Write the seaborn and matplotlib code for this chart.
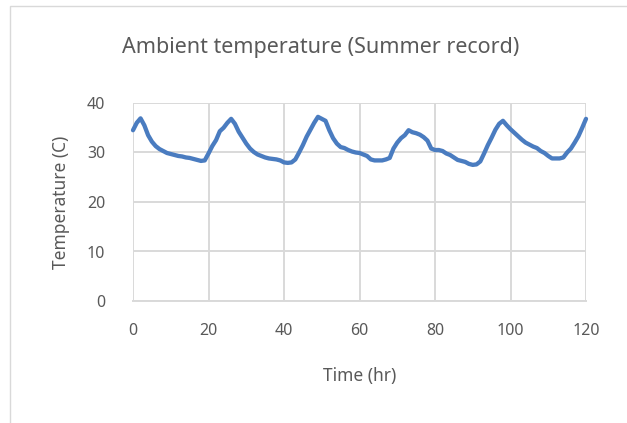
import matplotlib
matplotlib.use("Agg")
import matplotlib.pyplot as plt
import seaborn as sns
import pandas as pd
from matplotlib.patches import Rectangle

# Hourly ambient temperature readings over five summer days
hours = list(range(0, 121))
temperature_c = [
    34.5, 36.0, 36.9, 35.5, 33.5, 32.2, 31.3, 30.7, 30.3, 29.9,
    29.7, 29.5, 29.3, 29.2, 29.0, 28.9, 28.7, 28.5, 28.3, 28.4,
    29.8, 31.3, 32.5, 34.3, 35.0, 36.0, 36.8, 35.8, 34.2, 33.0,
    31.8, 30.8, 30.1, 29.6, 29.3, 29.0, 28.8, 28.7, 28.6, 28.4,
    28.0, 27.9, 28.0, 28.6, 30.0, 31.5, 33.2, 34.6, 36.0, 37.2,
    36.8, 36.4, 34.5, 32.9, 31.8, 31.1, 30.9, 30.5, 30.2, 30.0,
    29.9, 29.6, 29.3, 28.6, 28.4, 28.4, 28.4, 28.6, 28.9, 30.8,
    32.0, 32.9, 33.5, 34.5, 34.1, 33.9, 33.6, 33.1, 32.4, 30.8,
    30.5, 30.5, 30.3, 29.8, 29.5, 29.0, 28.5, 28.3, 28.1, 27.7,
    27.5, 27.6, 28.2, 29.8, 31.5, 33.0, 34.6, 35.8, 36.4, 35.5,
    34.7, 34.0, 33.3, 32.6, 32.0, 31.6, 31.2, 30.9, 30.3, 29.9,
    29.3, 28.8, 28.8, 28.8, 29.0, 30.0, 30.8, 32.0, 33.3, 35.0,
    36.8,
]
x_ticks = [0, 20, 40, 60, 80, 100, 120]
y_ticks = [0, 10, 20, 30, 40]

title = "Ambient temperature (Summer record)"
x_label = "Time (hr)"
y_label = "Temperature (C)"

sns.set_style("white")
plt.rcParams["font.family"] = ["Noto Sans", "DejaVu Sans"]

text_color = "#595959"
grid_color = "#d9d9d9"
line_color = "#4a7cc0"

df = pd.DataFrame({"hour": hours, "temp": temperature_c})

fig = plt.figure(figsize=(6.27, 4.23), dpi=100)
fig.patch.set_facecolor("white")

# Chart-area frame
fig.patches.append(Rectangle((10 / 627, -0.1), 1.2, 1 - 6 / 423 + 0.1,
                             transform=fig.transFigure, fill=False,
                             edgecolor="#d9d9d9", linewidth=1.0))

ax = fig.add_axes([133 / 627, 1 - 301 / 423, (586 - 133) / 627, (301 - 103) / 423])

sns.lineplot(data=df, x="hour", y="temp", ax=ax, color=line_color,
             linewidth=3.1, solid_joinstyle="round", solid_capstyle="round",
             zorder=3, clip_on=False)

ax.set_xlim(0, 120)
ax.set_ylim(0, 40)
ax.set_xticks(x_ticks)
ax.set_yticks(y_ticks)
ax.grid(True, color=grid_color, linewidth=1.4)
for side in ["top", "right", "left"]:
    ax.spines[side].set_visible(False)
ax.spines["bottom"].set_color(grid_color)
ax.spines["bottom"].set_linewidth(1.4)
ax.tick_params(axis="both", length=0, labelsize=11.5, colors=text_color)
ax.tick_params(axis="x", pad=16)
ax.tick_params(axis="y", pad=20)

ax.set_xlabel(x_label, fontsize=12.5, color=text_color, labelpad=20)
ax.set_ylabel(y_label, fontsize=12.5, color=text_color, labelpad=12)

fig.text(321 / 627, 1 - 47 / 423, title, ha="center", va="center",
         fontsize=15.5, color=text_color)

fig.savefig("out.png", dpi=100, facecolor="white")
